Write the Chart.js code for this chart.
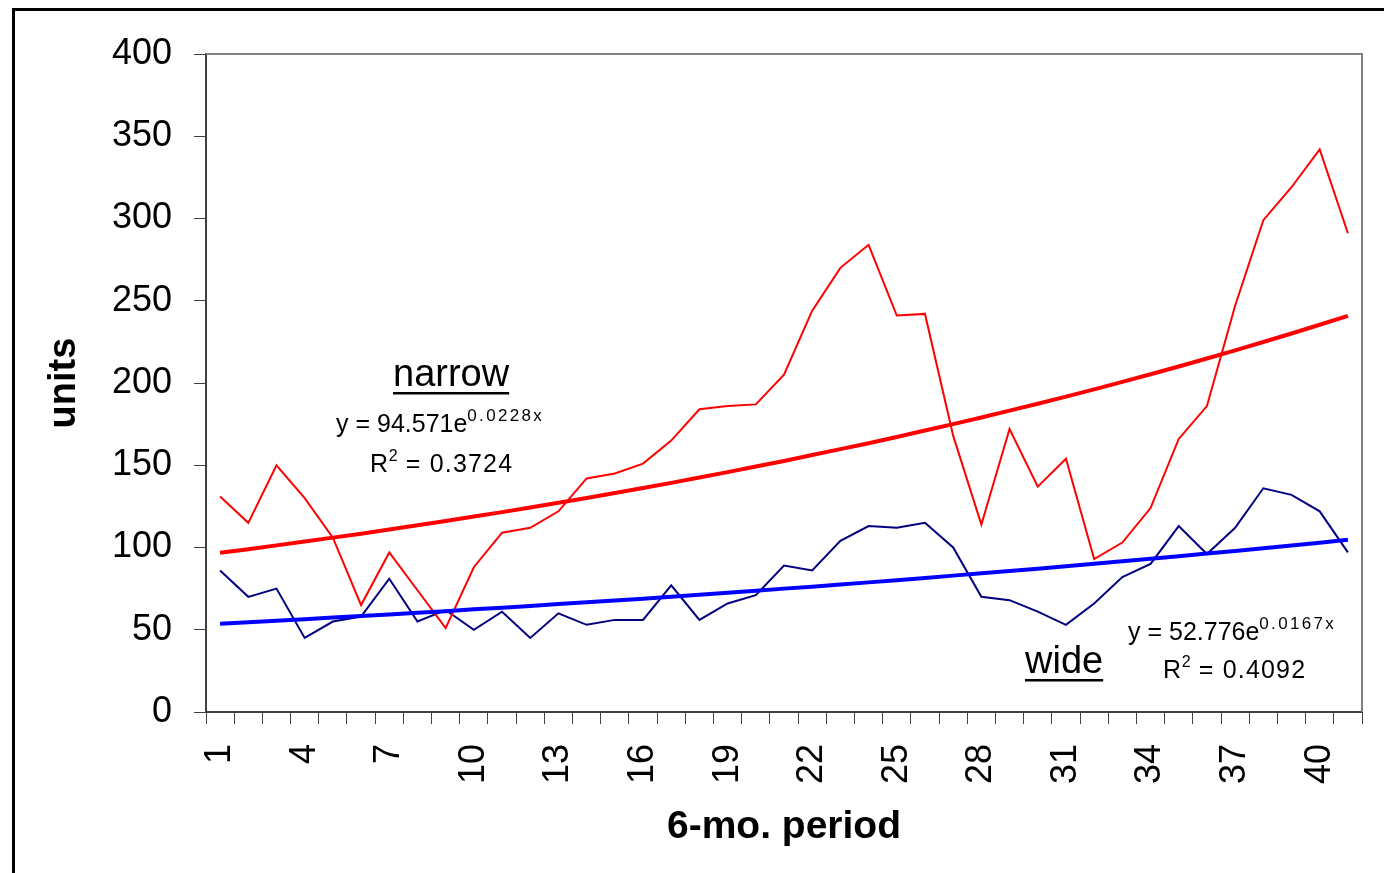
<!DOCTYPE html>
<html>
<head>
<meta charset="utf-8">
<script src="https://cdn.jsdelivr.net/npm/chart.js@4.4.1/dist/chart.umd.min.js"></script>
<style>
  html, body { margin: 0; padding: 0; background: #fff; overflow: hidden; }
  #frame { position: absolute; left: 12px; top: 8px; width: 2000px; height: 2000px; border: 3px solid #000; }
  #chart { position: absolute; left: 0; top: 0; }
</style>
</head>
<body>
<div id="frame"></div>
<canvas id="chart" width="1384" height="873"></canvas>
<script>
const periods = ["1", "2", "3", "4", "5", "6", "7", "8", "9", "10",
                 "11", "12", "13", "14", "15", "16", "17", "18", "19", "20",
                 "21", "22", "23", "24", "25", "26", "27", "28", "29", "30",
                 "31", "32", "33", "34", "35", "36", "37", "38", "39", "40", "41"];

const narrow = [131, 115, 150, 130, 106, 65, 97, 74, 51, 88,
                109, 112, 122, 142, 145, 151, 165, 184, 186, 187,
                205, 244, 270, 284, 241, 242, 168, 114, 172, 137,
                154, 93, 103, 124, 166, 186, 247, 299, 319, 342, 291];

const wide = [86, 70, 75, 45, 55, 58, 81, 55, 62, 50,
              61, 45, 60, 53, 56, 56, 77, 56, 66, 71,
              89, 86, 104, 113, 112, 115, 100, 70, 68, 61,
              53, 66, 82, 90, 113, 96, 112, 136, 132, 122, 97];

// exponential trend lines (y = 94.571e^0.0228x and y = 52.776e^0.0167x)
const narrowTrend = [96.8, 99.0, 101.3, 103.6, 106.0, 108.4, 110.9, 113.5, 116.1, 118.8,
                     121.5, 124.3, 127.2, 130.1, 133.1, 136.2, 139.3, 142.5, 145.8, 149.2,
                     152.6, 156.2, 159.8, 163.4, 167.2, 171.1, 175.0, 179.0, 183.2, 187.4,
                     191.7, 196.1, 200.7, 205.3, 210.0, 214.9, 219.8, 224.9, 230.1, 235.4, 240.8];

const wideTrend = [53.7, 54.6, 55.5, 56.4, 57.4, 58.3, 59.3, 60.3, 61.3, 62.4,
                   63.4, 64.5, 65.6, 66.7, 67.8, 68.9, 70.1, 71.3, 72.5, 73.7,
                   75.0, 76.2, 77.5, 78.8, 80.1, 81.5, 82.9, 84.3, 85.7, 87.1,
                   88.6, 90.1, 91.6, 93.1, 94.7, 96.3, 97.9, 99.6, 101.2, 102.9, 104.7];

const yTicks = [0, 50, 100, 150, 200, 250, 300, 350, 400];

const FONT = "'Liberation Sans', Arial, sans-serif";

// text runs: [text, size, rise, letterSpacing]
const notes = [
  { x: 393, y: 386, underline: true, runs: [["narrow", 38, 0, 0]] },
  { x: 336, y: 432, runs: [["y = 94.571e", 25, 0, 0], ["0.0228x", 17, 11, 2.3]] },
  { x: 370, y: 472, runs: [["R", 25, 0, 0.6], ["2", 16, 11, 0], [" = 0.3724", 25, 0, 1.2]] },
  { x: 1025, y: 673, underline: true, runs: [["wide", 38, 0, 0]] },
  { x: 1128, y: 640, runs: [["y = 52.776e", 25, 0, 0], ["0.0167x", 17, 11, 2.3]] },
  { x: 1163, y: 678, runs: [["R", 25, 0, 0.6], ["2", 16, 11, 0], [" = 0.4092", 25, 0, 1.2]] }
];

const notesPlugin = {
  id: "notes",
  afterDraw(chart) {
    const ctx = chart.ctx;
    const a = chart.chartArea;
    ctx.save();
    // plot frame, top and right sides
    ctx.strokeStyle = "#808080";
    ctx.lineWidth = 2;
    ctx.beginPath();
    ctx.moveTo(a.left, a.top);
    ctx.lineTo(a.right, a.top);
    ctx.lineTo(a.right, a.bottom);
    ctx.stroke();

    ctx.fillStyle = "#000";
    ctx.textBaseline = "alphabetic";
    ctx.textAlign = "left";
    notes.forEach(n => {
      let x = n.x;
      n.runs.forEach(([text, size, rise, sp]) => {
        ctx.font = size + "px " + FONT;
        ctx.letterSpacing = sp + "px";
        ctx.fillText(text, x, n.y - rise);
        x += ctx.measureText(text).width;
      });
      if (n.underline) {
        ctx.fillRect(n.x, n.y + 6, x - n.x, 2.5);
      }
    });
    ctx.letterSpacing = "0px";
    ctx.restore();
  }
};

const ctx = document.getElementById("chart").getContext("2d");

new Chart(ctx, {
  type: "line",
  data: {
    labels: periods,
    datasets: [
      { label: "narrow trend", data: narrowTrend, borderColor: "#ff0000", borderWidth: 4, order: 0 },
      { label: "wide trend", data: wideTrend, borderColor: "#0000ff", borderWidth: 4, order: 0 },
      { label: "narrow", data: narrow, borderColor: "#ff0000", borderWidth: 2, order: 1 },
      { label: "wide", data: wide, borderColor: "#000080", borderWidth: 2, order: 1 }
    ]
  },
  options: {
    responsive: false,
    animation: false,
    events: [],
    elements: {
      point: { radius: 0 },
      line: { tension: 0, fill: false, borderJoinStyle: "miter" }
    },
    layout: { padding: { top: 54, right: 22, left: 0, bottom: 0 } },
    plugins: {
      legend: { display: false },
      tooltip: { enabled: false }
    },
    scales: {
      x: {
        offset: true,
        grid: {
          offset: true,
          drawOnChartArea: false,
          drawTicks: true,
          tickLength: 12,
          color: "#404040",
          lineWidth: 1
        },
        border: { display: true, color: "#404040", width: 2 },
        ticks: {
          autoSkip: false,
          maxRotation: 90,
          minRotation: 90,
          padding: 20,
          color: "#000",
          font: { family: FONT, size: 36 },
          callback: function (value, index) {
            return index % 3 === 0 ? this.getLabelForValue(value) : "";
          }
        },
        title: {
          display: true,
          text: "6-mo. period",
          color: "#000",
          font: { family: FONT, size: 39, weight: "bold" },
          padding: { top: 0, bottom: 22 }
        },
        afterFit(scale) {
          scale.height = 161;
          scale.paddingLeft = 0;
          scale.paddingRight = 0;
        }
      },
      y: {
        min: 0,
        max: 400,
        afterBuildTicks(scale) { scale.ticks = yTicks.map(v => ({ value: v })); },
        grid: {
          drawOnChartArea: false,
          drawTicks: true,
          tickLength: 12,
          color: "#404040",
          lineWidth: 1
        },
        border: { display: true, color: "#404040", width: 2 },
        ticks: {
          padding: 22,
          color: "#000",
          font: { family: FONT, size: 36 }
        },
        title: {
          display: true,
          text: "units",
          color: "#000",
          font: { family: FONT, size: 38, weight: "bold" },
          padding: { top: 42, bottom: 0 }
        },
        afterFit(scale) { scale.width = 206; }
      }
    }
  },
  plugins: [notesPlugin]
});
</script>
</body>
</html>
